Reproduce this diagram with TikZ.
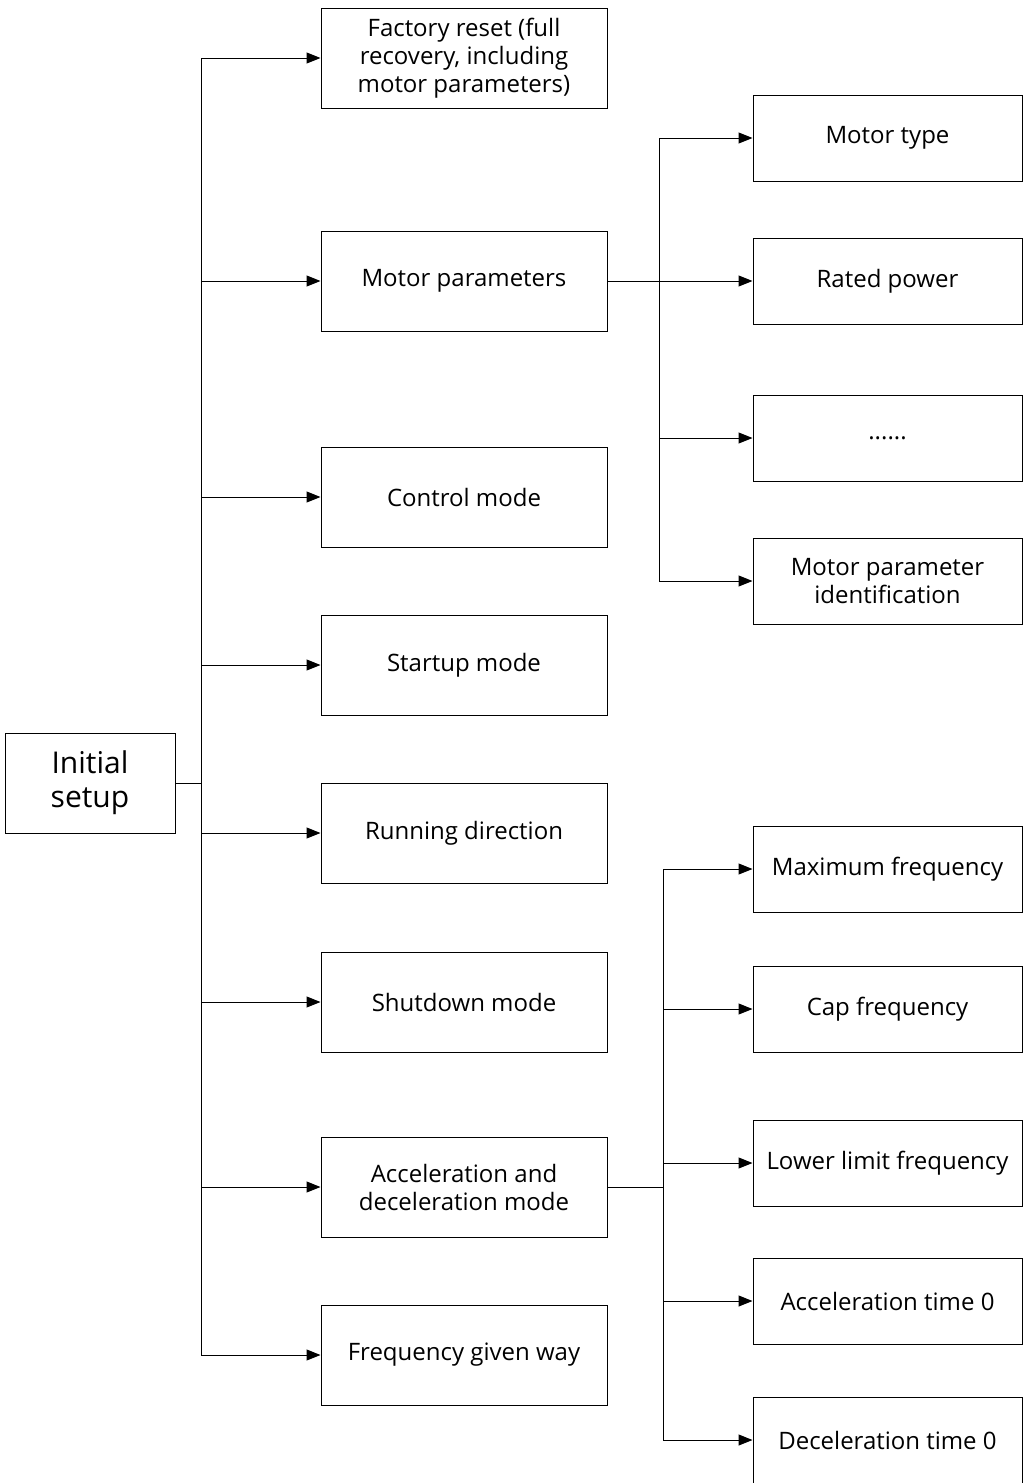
\documentclass[tikz,border=0pt]{standalone}
\usepackage{fontspec}
\setmainfont{Open Sans}
\usetikzlibrary{arrows.meta}
\tikzset{
	hop/.style={draw,line width=1pt,align=center,inner sep=2pt,font=\fontsize{24}{28}\selectfont},
	hoptrai/.style={hop,minimum width=286pt,minimum height=100pt},
	hopphai/.style={hop,minimum width=269pt,minimum height=86pt},
	muiten/.style={line width=1pt,-{Triangle[length=14pt,width=11pt]}},
	noi/.style={line width=1pt}
}
\begin{document}
\begin{tikzpicture}[line cap=butt,line join=miter,x=1pt,y=-1pt]
		\useasboundingbox (0,0) rectangle (1027,1483);
		%Hộp gốc
		\node[hop,minimum width=170pt,minimum height=100pt,font=\fontsize{30}{34}\selectfont] (goc) at (90,783) {Initial\\setup};
		\coordinate (j0) at (201,783);
		%Cột giữa
		\foreach \ten/\y/\chu in {fr/58/{Factory reset (full\\recovery, including\\motor parameters)},mp/281/{Motor parameters},cm/497/{Control mode},sm/665/{Startup mode},rd/833/{Running direction},sd/1002/{Shutdown mode},ad/1187/{Acceleration and\\deceleration mode},fg/1355/{Frequency given way}}
		\node[hoptrai] (\ten) at (464,\y) {\chu};
		%Cột phải
		\foreach \ten/\y/\chu in {mt/138/{Motor type},rp/281/{Rated power},dd/438/{......},pi/581/{Motor parameter\\identification},mf/869/{Maximum frequency},cf/1009/{Cap frequency},lf/1163/{Lower limit frequency},at/1301/{Acceleration time 0},dt/1440/{Deceleration time 0}}
		\node[hopphai] (\ten) at (887.5,\y) {\chu};
		\coordinate (j1) at (659,281);
		\coordinate (j2) at (663,1187);
		%Vẽ đường nối
		\draw[noi] (goc.east)--(j0);
		\foreach \ten in {fr,mp,cm,sm,rd,sd,ad,fg}
		\draw[muiten] (j0) |- (\ten.west);
		\draw[noi] (mp.east)--(j1);
		\foreach \ten in {mt,rp,dd,pi}
		\draw[muiten] (j1) |- (\ten.west);
		\draw[noi] (ad.east)--(j2);
		\foreach \ten in {mf,cf,lf,at,dt}
		\draw[muiten] (j2) |- (\ten.west);
	\end{tikzpicture}
\end{document}
